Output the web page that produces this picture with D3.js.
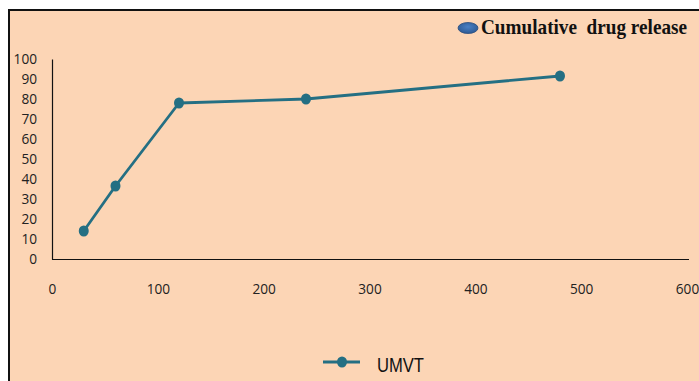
<!DOCTYPE html>
<html>
<head>
<meta charset="utf-8">
<script src="https://cdn.jsdelivr.net/npm/d3@7"></script>
<style>
  html, body { margin: 0; padding: 0; background: #ffffff; }
  svg { display: block; }
</style>
</head>
<body>
<svg id="chart" width="699" height="381"></svg>
<script>
// Cumulative drug release of UMVT over time
const timePoints = [30, 60, 120, 240, 480];
const releaseValues = [14, 36.5, 78, 80, 91.5];
const xTicks = [0, 100, 200, 300, 400, 500, 600];
const yTicks = [0, 10, 20, 30, 40, 50, 60, 70, 80, 90, 100];
const seriesName = "UMVT";
const legendTitle = "Cumulative  drug release";

const svg = d3.select("#chart");
const W = 699, H = 381;
const lineColor = "#246f83";

// frame: peach panel with dark top/left border
svg.append("rect").attr("x", 8).attr("y", 9).attr("width", W - 8).attr("height", H - 9).attr("fill", "#111");
svg.append("rect").attr("x", 10).attr("y", 11).attr("width", W - 10).attr("height", H - 11).attr("fill", "#fcd5b5");

const x = d3.scaleLinear().domain([0, 600]).range([52, 687]);
const y = d3.scaleLinear().domain([0, 100]).range([259, 59]);

const tickFont = "'Open Sans', sans-serif";
// narrow, tall tick digits
function styleTicks(sel) {
  sel.attr("font-family", tickFont).attr("font-size", 15).attr("fill", "#222")
    .attr("textLength", function () { return this.textContent.length * 7.8; })
    .attr("lengthAdjust", "spacingAndGlyphs");
}

// x axis
const gx = svg.append("g").attr("transform", `translate(0,${y(0)})`)
  .call(d3.axisBottom(x).tickValues(xTicks).tickSize(0).tickSizeOuter(0).tickPadding(24).tickFormat(d3.format("d")));
gx.select(".domain").attr("stroke", "#111").attr("stroke-width", 1.2)
  .attr("d", `M${x(0)},0.5H${x(600) + 2}`);
gx.selectAll("text").call(styleTicks);

// y axis
const gy = svg.append("g").attr("transform", `translate(${x(0)},0)`)
  .call(d3.axisLeft(y).tickValues(yTicks).tickSize(0).tickSizeOuter(0).tickPadding(15).tickFormat(d3.format("d")));
gy.select(".domain").attr("stroke", "#111").attr("stroke-width", 1.2);
gy.selectAll("text").call(styleTicks);

// series line and markers
const pts = timePoints.map((t, i) => [t, releaseValues[i]]);
svg.append("path")
  .datum(pts)
  .attr("fill", "none")
  .attr("stroke", lineColor)
  .attr("stroke-width", 2.8)
  .attr("stroke-linejoin", "round")
  .attr("d", d3.line().x(d => x(d[0])).y(d => y(d[1])));

svg.selectAll("ellipse.pt")
  .data(pts)
  .enter().append("ellipse")
  .attr("class", "pt")
  .attr("cx", d => x(d[0]))
  .attr("cy", d => y(d[1]))
  .attr("rx", 5)
  .attr("ry", 5.5)
  .attr("fill", lineColor);

// top legend
const grad = svg.append("defs").append("radialGradient").attr("id", "legDot")
  .attr("cx", "50%").attr("cy", "40%").attr("r", "60%");
grad.append("stop").attr("offset", "0%").attr("stop-color", "#4a80c4");
grad.append("stop").attr("offset", "100%").attr("stop-color", "#2d5a94");
svg.append("ellipse").attr("cx", 468).attr("cy", 28).attr("rx", 10).attr("ry", 5.5)
  .attr("fill", "url(#legDot)").attr("stroke", "#2a4d7e").attr("stroke-width", 0.8);
svg.append("text")
  .attr("x", 481).attr("y", 34)
  .attr("font-family", "'Liberation Serif', 'Times New Roman', serif")
  .attr("font-weight", "bold")
  .attr("font-size", 21)
  .attr("fill", "#111")
  .attr("textLength", 206)
  .attr("lengthAdjust", "spacingAndGlyphs")
  .style("white-space", "pre")
  .text(legendTitle);

// bottom legend
svg.append("line").attr("x1", 323).attr("x2", 360).attr("y1", 362).attr("y2", 362)
  .attr("stroke", lineColor).attr("stroke-width", 2.8);
svg.append("ellipse").attr("cx", 342).attr("cy", 362).attr("rx", 5).attr("ry", 5.5).attr("fill", lineColor);
svg.append("text")
  .attr("x", 377).attr("y", 372)
  .attr("font-family", "'Liberation Sans', Arial, sans-serif")
  .attr("font-size", 20)
  .attr("fill", "#111")
  .attr("textLength", 47)
  .attr("lengthAdjust", "spacingAndGlyphs")
  .text(seriesName);
</script>
</body>
</html>
